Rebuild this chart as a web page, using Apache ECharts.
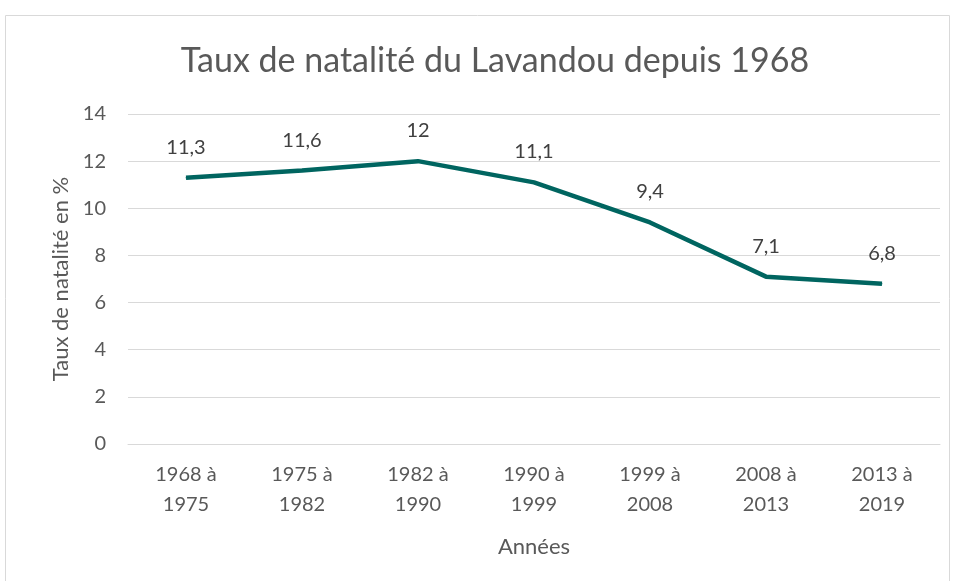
<!DOCTYPE html>
<html>
<head>
<meta charset="utf-8">
<title>Taux de natalité</title>
<script src="https://cdn.jsdelivr.net/npm/echarts@6/dist/echarts.min.js"></script>
<style>
html, body { margin: 0; padding: 0; background: #fff; }
#chart { width: 957px; height: 581px; }
</style>
</head>
<body>
<div id="chart"></div>
<script>
var periodes = ["1968 à\n1975", "1975 à\n1982", "1982 à\n1990", "1990 à\n1999", "1999 à\n2008", "2008 à\n2013", "2013 à\n2019"];
var taux = [11.3, 11.6, 12, 11.1, 9.4, 7.1, 6.8];

var font = "Lato, 'Open Sans', sans-serif";
var chart = echarts.init(document.getElementById("chart"));
chart.setOption({
    animation: false,
    graphic: [{
        type: "rect",
        shape: { x: 5.5, y: 15.5, width: 944, height: 580 },
        style: { fill: "none", stroke: "#d9d9d9", lineWidth: 1 }
    }],
    title: {
        text: "Taux de natalité du Lavandou depuis 1968",
        left: 490,
        top: 39,
        textAlign: "center",
        textStyle: { color: "#595959", fontFamily: font, fontWeight: "normal", fontSize: 34 }
    },
    grid: { left: 128, right: 17, top: 114, bottom: 137 },
    xAxis: {
        type: "category",
        data: periodes,
        name: "Années",
        nameLocation: "middle",
        nameGap: 92,
        nameTextStyle: { color: "#595959", fontFamily: font, fontSize: 22 },
        axisLine: { lineStyle: { color: "#d9d9d9", width: 1 } },
        axisTick: { show: false },
        axisLabel: { color: "#595959", fontFamily: font, fontSize: 20, lineHeight: 30, margin: 16 }
    },
    yAxis: {
        type: "value",
        min: 0,
        max: 14,
        interval: 2,
        name: "Taux de natalité en %",
        nameLocation: "middle",
        nameGap: 55,
        nameTextStyle: { color: "#595959", fontFamily: font, fontSize: 22 },
        axisLine: { show: false },
        axisTick: { show: false },
        axisLabel: { color: "#595959", fontFamily: font, fontSize: 20, margin: 22 },
        splitLine: { lineStyle: { color: "#d9d9d9", width: 1 } }
    },
    series: [{
        type: "line",
        data: taux,
        symbol: "circle",
        symbolSize: 1,
        itemStyle: { color: "#006560" },
        lineStyle: { color: "#006560", width: 4.5 },
        label: {
            show: true,
            position: "top",
            distance: 20,
            color: "#404040",
            fontFamily: font,
            fontSize: 20,
            formatter: function (p) { return String(p.value).replace(".", ","); }
        }
    }]
});
</script>
</body>
</html>
